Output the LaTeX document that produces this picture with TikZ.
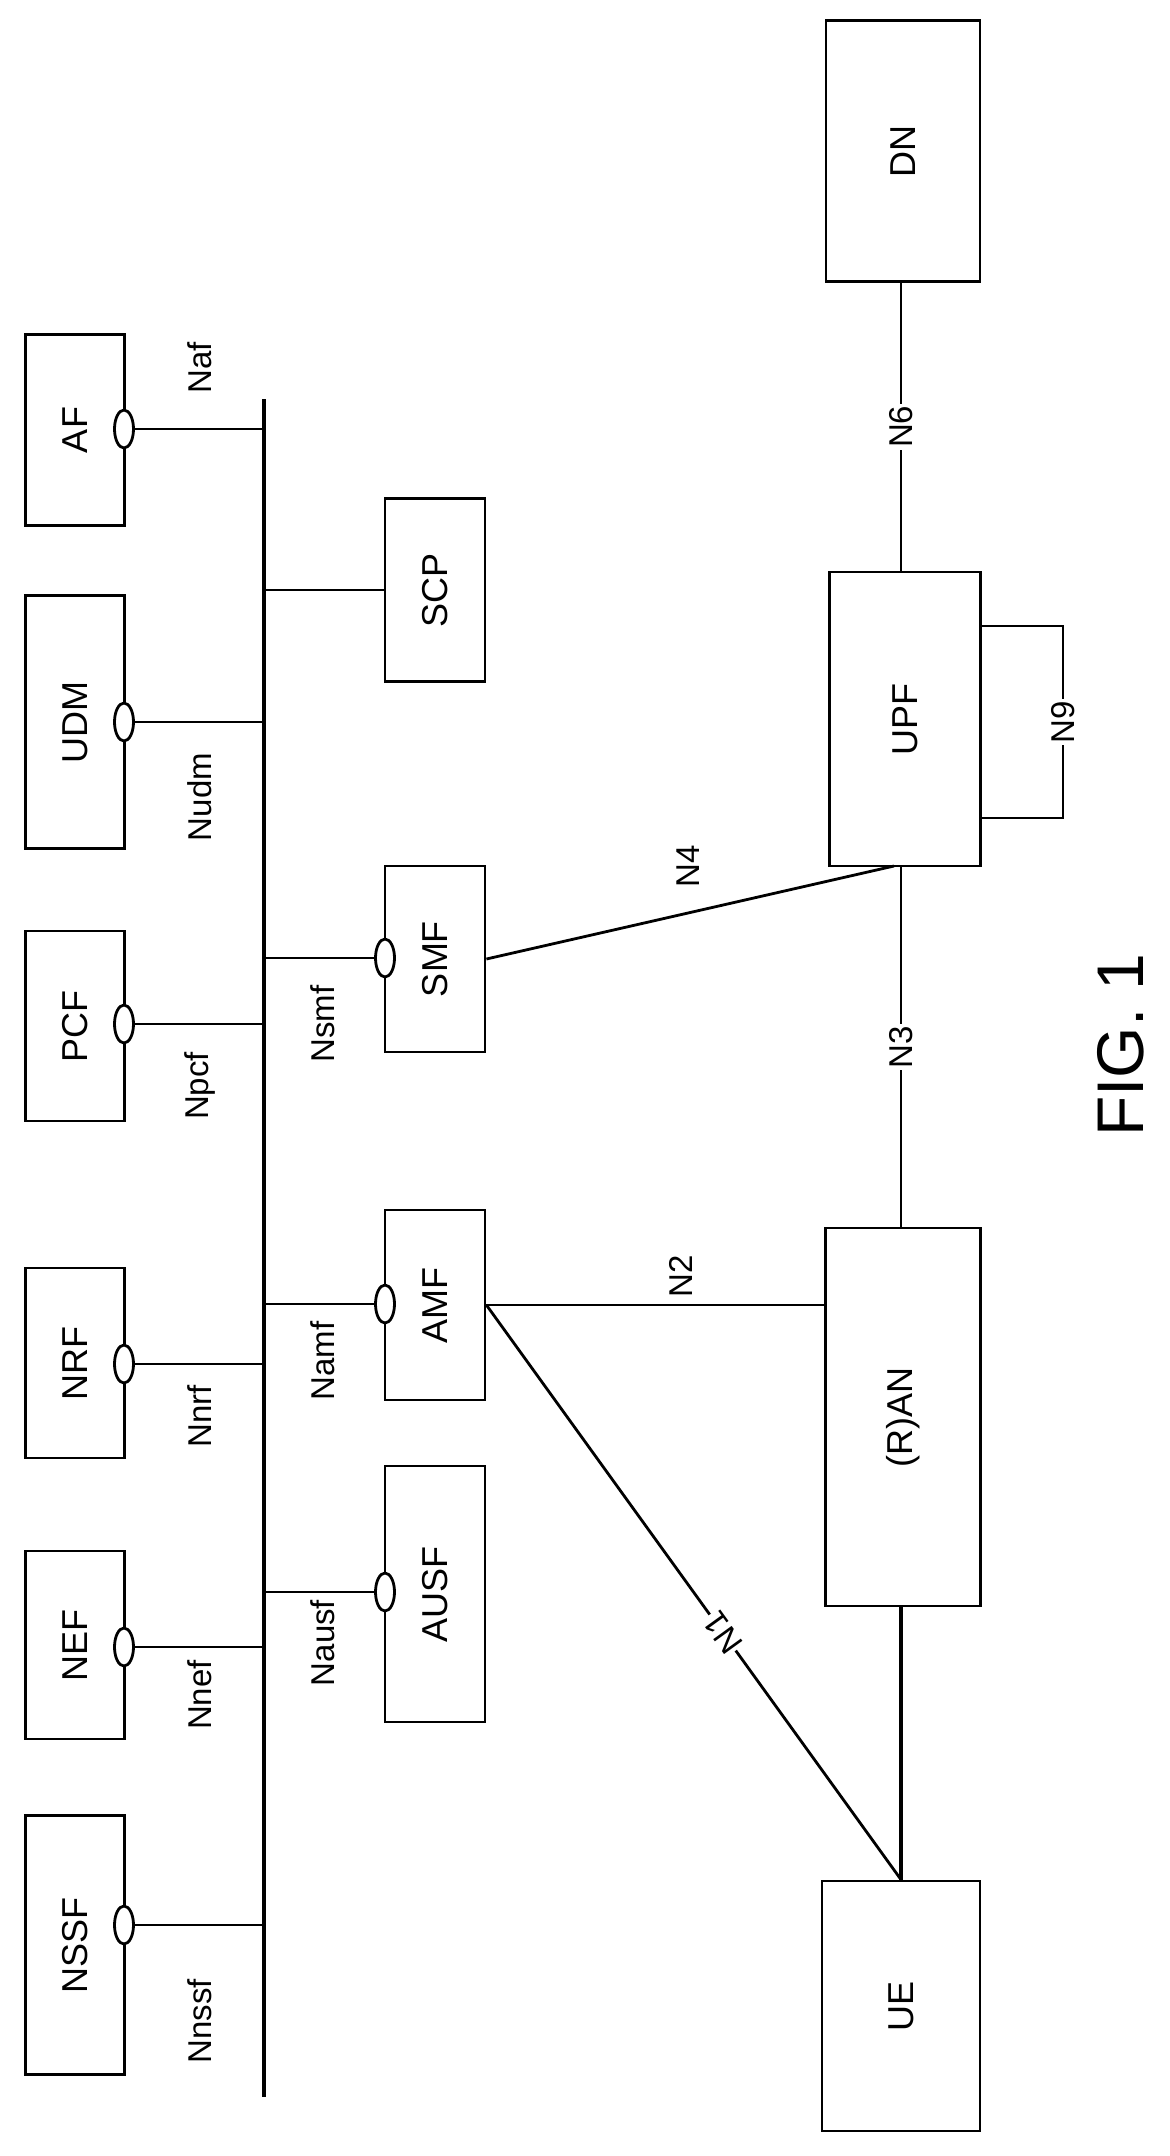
\documentclass[tikz,border=0pt]{standalone}
\usepackage{fontspec}
\setmainfont{Liberation Sans}
\usetikzlibrary{shapes.geometric,calc}

\newcommand{\up}[1]{\rotatebox{90}{#1}}

\begin{document}
\begin{tikzpicture}[x=1pt,y=-1pt,
   nf/.style 2 args={draw,line width=2.8pt,minimum width=#1,minimum height=#2,inner sep=0pt,
     font=\fontsize{36}{40}\selectfont},
   svc/.style={draw,ellipse,line width=2.8pt,fill=white,minimum width=19pt,minimum height=38pt,inner sep=0pt},
   lnk/.style={line width=2.8pt},
   lab/.style={font=\fontsize{33}{36}\selectfont,inner sep=2pt}]
 \useasboundingbox (0,0) rectangle (1170,2156);

 % service bus
 \coordinate (bt) at (264,399);
 \coordinate (bb) at (264,2097);
 \draw[line width=4pt] (bt) -- (bb);

 % functions on the left of the bus
 \node[nf={99pt}{191pt}] (af) at (75,430) {\up{AF}};
 \node[nf={99pt}{253pt}] (udm) at (75,722) {\up{UDM}};
 \node[nf={99pt}{190pt}] (pcf) at (75,1026) {\up{PCF}};
 \node[nf={99pt}{190pt}] (nrf) at (75,1363) {\up{NRF}};
 \node[nf={99pt}{188pt}] (nef) at (75,1645) {\up{NEF}};
 \node[nf={99pt}{259pt}] (nssf) at (75,1945) {\up{NSSF}};
 \foreach \nm/\yy/\lb/\ly in {af/429/Naf/368,udm/722/Nudm/797,pcf/1024/Npcf/1086,
   nrf/1364/Nnrf/1416,nef/1647/Nnef/1695,nssf/1925/Nnssf/2021}
 {\node[svc] (s\nm) at (124,\yy) {};
  \draw[lnk] (s\nm.east) -- (s\nm.east -| bt);
  \node[lab] at (200,\ly) {\up{\lb}};}

 % functions on the right of the bus
 \node[nf={100pt}{183pt}] (scp) at (435,590) {\up{SCP}};
 \node[nf={100pt}{186pt}] (smf) at (435,959) {\up{SMF}};
 \node[nf={100pt}{190pt}] (amf) at (435,1305) {\up{AMF}};
 \node[nf={100pt}{256pt}] (ausf) at (435,1594) {\up{AUSF}};
 \draw[lnk] (scp.west) -- (scp.west -| bt);
 \foreach \nm/\yy/\lb/\ly in {smf/958/Nsmf/1024,amf/1304/Namf/1361,ausf/1592/Nausf/1643}
 {\node[svc] (s\nm) at (385,\yy) {};
  \draw[lnk] (s\nm.west) -- (s\nm.west -| bt);
  \node[lab] at (323,\ly) {\up{\lb}};}

 % user plane
 \node[nf={154pt}{261pt}] (dn) at (903,151) {\up{DN}};
 \node[nf={151pt}{294pt}] (upf) at (905,719) {\up{UPF}};
 \node[nf={155pt}{378pt}] (ran) at (903,1417) {\up{(R)AN}};
 \node[nf={158pt}{250pt}] (ue) at (901,2006) {\up{UE}};

 \draw[lnk] (dn.south -| 901,0) -- node[fill=white,lab]{\up{N6}} (upf.north -| 901,0);
 \draw[lnk] (upf.south -| 901,0) -- node[fill=white,lab]{\up{N3}} (ran.north -| 901,0);
 \draw[line width=3.5pt] (ran.south -| 901,0) -- (ue.north -| 901,0);
 \coordinate (n9a) at (1063,626);
 \coordinate (n9b) at (1063,818);
 \draw[lnk] (upf.east |- n9a) -- (n9a) -- node[fill=white,lab]{\up{N9}} (n9b) -- (upf.east |- n9b);

 \coordinate (upfb) at (894,866);
 \coordinate (amfr) at (amf.east);
 \draw[lnk] (smf.east) -- (upfb);
 \node[lab] at (688,866) {\up{N4}};
 \draw[lnk] (amfr) -- (ran.west |- amfr);
 \node[lab] at (681,1276) {\up{N2}};
 \draw[lnk] (amfr) -- node[fill=white,lab,sloped,pos=0.57,inner sep=1pt]{\rotatebox{180}{N1}} (ue.north -| 901,0);

 \node[font=\fontsize{66}{72}\selectfont] (fig) at (1121,1045) {\up{FIG. 1}};
\end{tikzpicture}
\end{document}
